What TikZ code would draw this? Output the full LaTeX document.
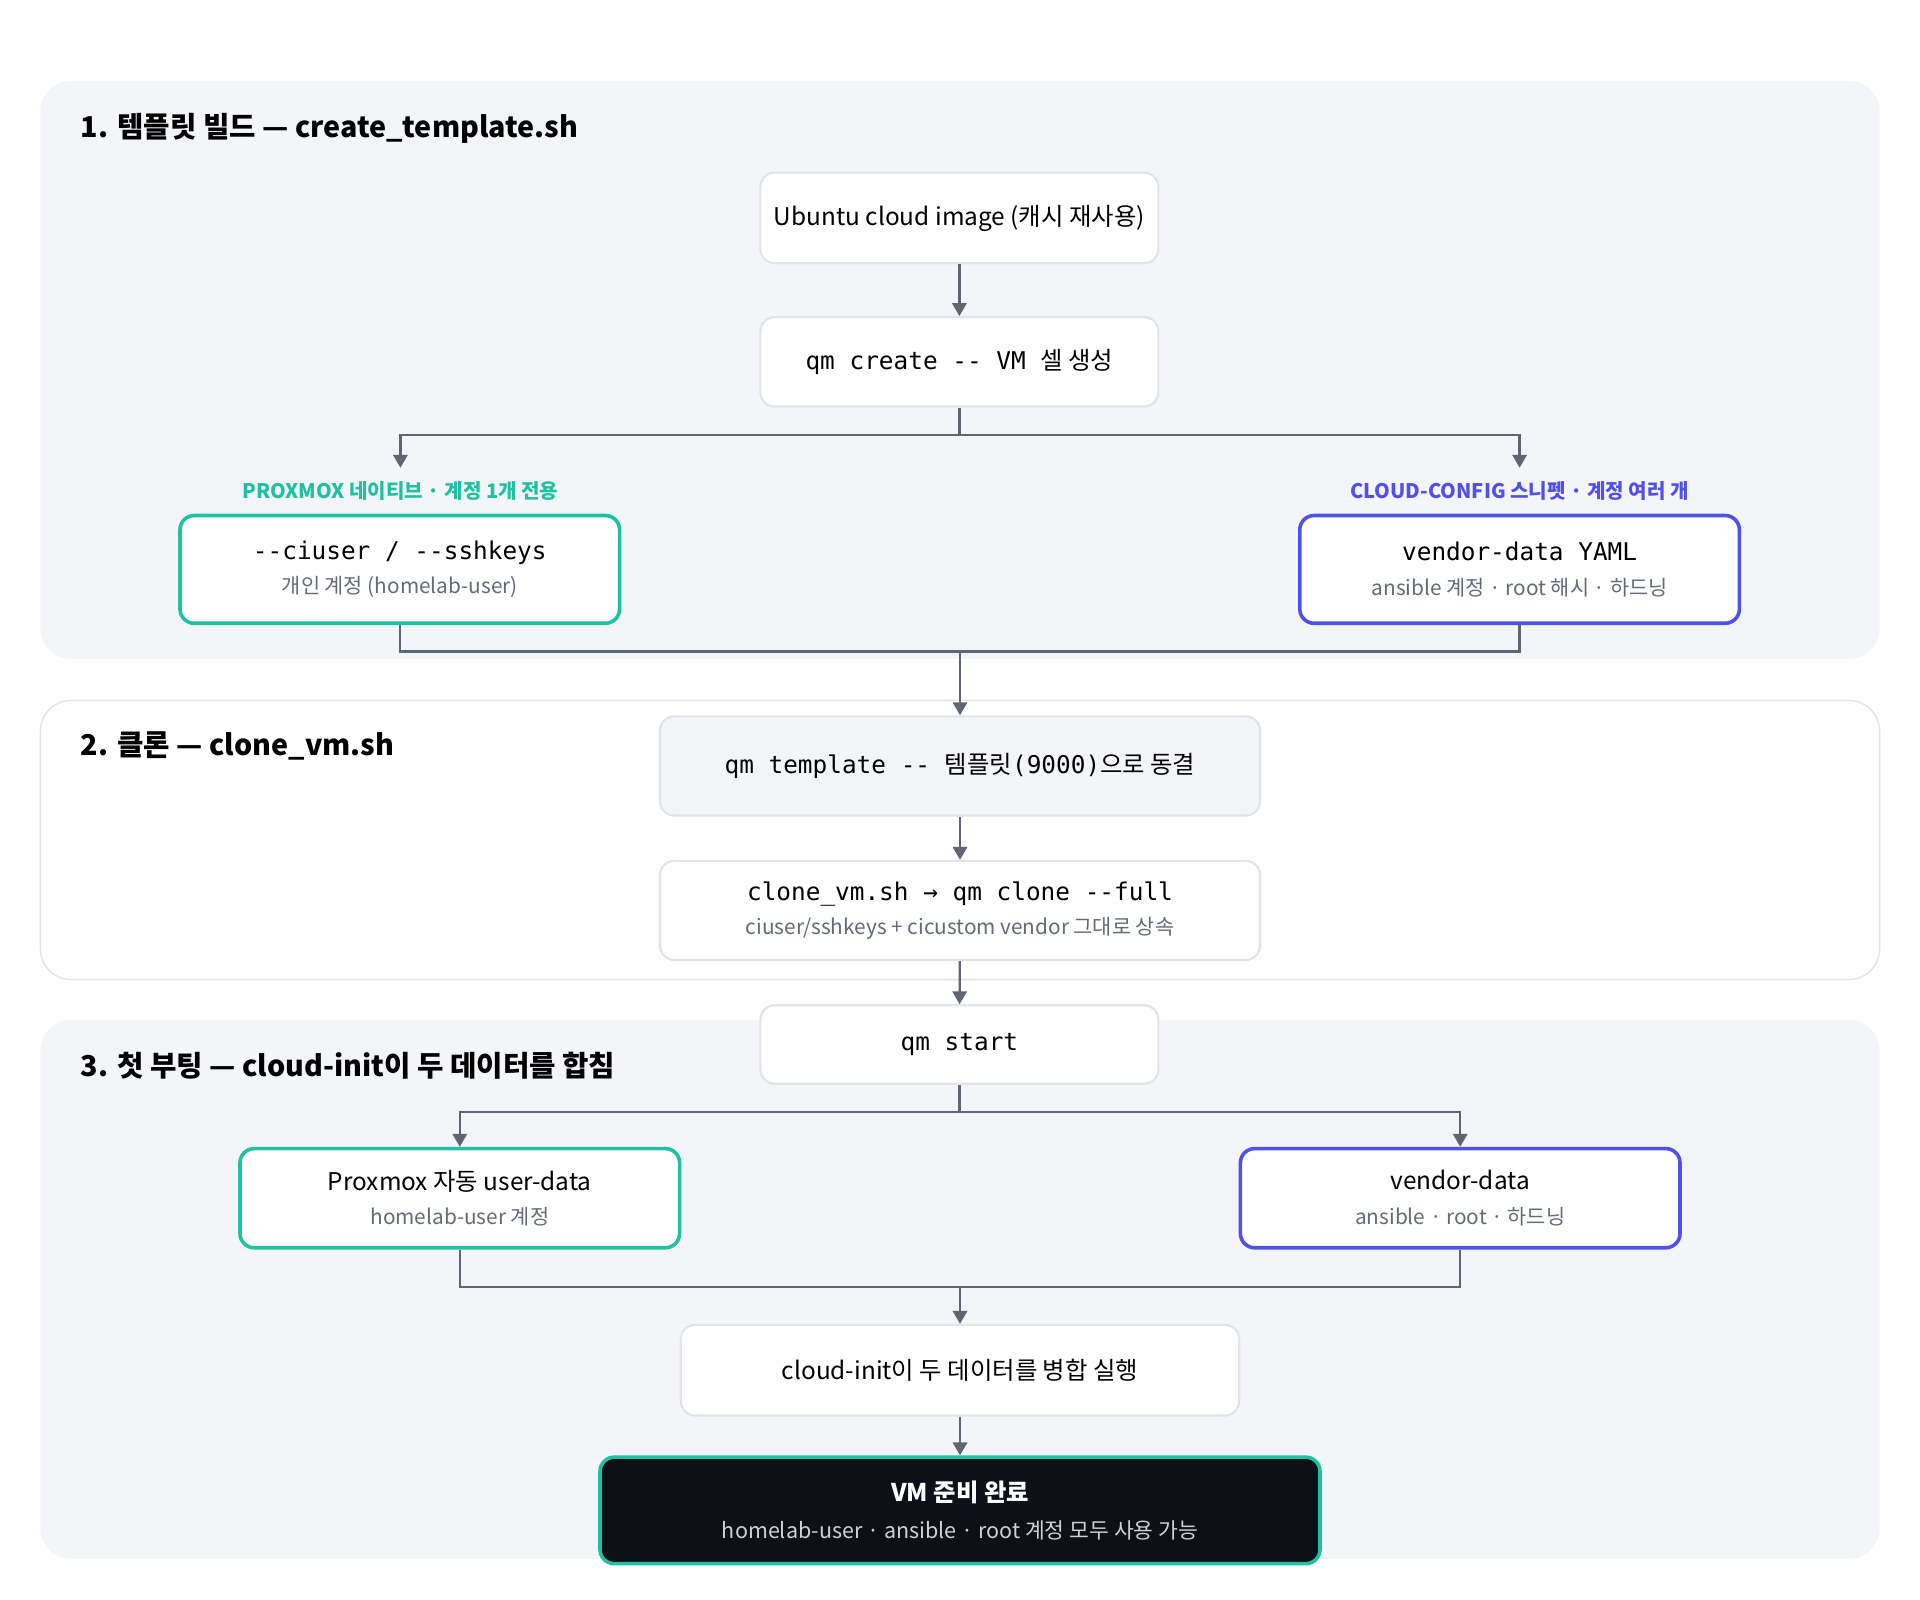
\documentclass[tikz,border=0pt]{standalone}
\usepackage{fontspec}
\setmainfont{Noto Sans CJK KR}
\newfontfamily\mono{DejaVu Sans Mono}
\newfontfamily\kr{Noto Sans CJK KR}
\usetikzlibrary{positioning, arrows.meta}
\definecolor{panel}{HTML}{F4F5F9}
\definecolor{bdr}{HTML}{E1E4EA}
\definecolor{wire}{HTML}{5F6673}
\definecolor{teal}{HTML}{1FC1A0}
\definecolor{indig}{HTML}{5151E8}
\definecolor{sub}{HTML}{646B78}
\definecolor{night}{HTML}{0D1117}
\tikzset{
	box/.style={draw=bdr, fill=white, rounded corners=0.35cm, line width=1.5pt, align=center, inner sep=0pt, font=\fontsize{17}{22}\selectfont},
	user/.style={box, draw=teal, line width=2.5pt},
	vend/.style={box, draw=indig, line width=2.5pt},
	title/.style={anchor=west, font=\bfseries\fontsize{20}{24}\selectfont},
	tag/.style={font=\bfseries\fontsize{14}{18}\selectfont},
	line/.style={draw=wire, line width=1.6pt},
	arr/.style={line, -{Triangle[length=9pt, width=10pt]}}
}
\newcommand{\subt}[1]{{\fontsize{14.5}{20}\selectfont\color{sub}#1}}
\begin{document}
\begin{tikzpicture}[x=0.03cm, y=-0.03cm]
	\useasboundingbox[fill=white] (0,0) rectangle (1568,1306);
	% panels
	\fill[panel, rounded corners=0.75cm] (33,66) rectangle (1535,538);
	\draw[bdr, fill=white, line width=1pt, rounded corners=0.75cm] (33,572) rectangle (1535,800);
	\fill[panel, rounded corners=0.75cm] (33,833) rectangle (1535,1273);
	\node[title] (t1) at (62,105) {1. 템플릿 빌드 — create\_template.sh};
	\node[title] (t2) at (62,609) {2. 클론 — clone\_vm.sh};
	\node[title] (t3) at (62,870) {3. 첫 부팅 — cloud-init이 두 데이터를 합침};

	% build
	\node[box, minimum width=9.75cm, minimum height=2.22cm] (img) at (783.5,178) {Ubuntu cloud image (캐시 재사용)};
	\node[box, minimum width=9.75cm, minimum height=2.19cm] (create) at (783.5,295.5) {\mono qm create -- VM {\kr 셀 생성}};
	\node[tag, text=teal] (ltag) at (327,401) {PROXMOX 네이티브 · 계정 1개 전용};
	\node[tag, text=indig] (rtag) at (1241,401) {CLOUD-CONFIG 스니펫 · 계정 여러 개};
	\node[user, minimum width=10.77cm, minimum height=2.64cm] (ciuser) at (326.5,465) {{\mono -{}-ciuser / -{}-sshkeys}\\[2pt]\subt{개인 계정 (homelab-user)}};
	\node[vend, minimum width=10.77cm, minimum height=2.64cm] (vdata) at (1241,465) {{\mono vendor-data YAML}\\[2pt]\subt{ansible 계정 · root 해시 · 하드닝}};

	% clone
	\node[box, fill=panel, minimum width=14.7cm, minimum height=2.43cm] (tmpl) at (784,625.5) {\mono qm template -- {\kr 템플릿}(9000){\kr 으로 동결}};
	\node[box, minimum width=14.7cm, minimum height=2.43cm] (clone) at (784,743.5) {{\mono clone\_vm.sh → qm clone -{}-full}\\[2pt]\subt{ciuser/sshkeys + cicustom vendor 그대로 상속}};

	% boot
	\node[box, minimum width=9.75cm, minimum height=1.92cm] (start) at (783.5,853) {\mono qm start};
	\node[user, minimum width=10.77cm, minimum height=2.43cm] (udata) at (375.5,978.5) {Proxmox 자동 user-data\\[2pt]\subt{homelab-user 계정}};
	\node[vend, minimum width=10.77cm, minimum height=2.43cm] (vdata2) at (1192.5,978.5) {vendor-data\\[2pt]\subt{ansible · root · 하드닝}};
	\node[box, minimum width=13.68cm, minimum height=2.22cm] (merge) at (784,1119) {cloud-init이 두 데이터를 병합 실행};
	\node[box, fill=night, draw=teal, line width=2.5pt, minimum width=17.64cm, minimum height=2.61cm] (ready) at (784,1233.5) {{\color{white}\bfseries VM 준비 완료}\\[4pt]{\fontsize{15}{20}\selectfont\color{bdr!80!gray}homelab-user · ansible · root 계정 모두 사용 가능}};

	\coordinate (s1) at (783.5,355);
	\coordinate (j1) at (784,532);
	\coordinate (s3) at (783.5,908);
	\coordinate (j3) at (784,1051);

	\draw[arr] (img) -- (create);
	\draw[line] (create) -- (s1);
	\draw[arr] (s1) -| (327,382);
	\draw[arr] (s1) -| (1241,382);
	\draw[line] (ciuser.south) |- (j1) -| (vdata.south);
	\draw[arr] (j1) -- (tmpl);
	\draw[arr] (tmpl) -- (clone);
	\draw[arr] (clone) -- (start);
	\draw[line] (start) -- (s3);
	\draw[arr] (s3) -| (udata.north);
	\draw[arr] (s3) -| (vdata2.north);
	\draw[line] (udata.south) |- (j3) -| (vdata2.south);
	\draw[arr] (j3) -- (merge);
	\draw[arr] (merge) -- (ready);
\end{tikzpicture}
\end{document}
